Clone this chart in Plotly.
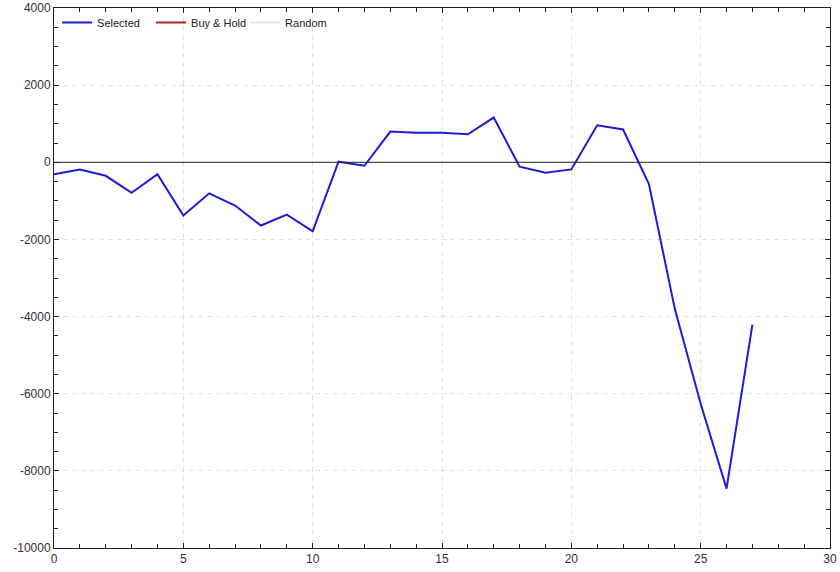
import plotly.graph_objects as go

trades = list(range(28))
selected = [-310, -190, -350, -790, -310, -1380, -805, -1120, -1640, -1355, -1790,
            15, -90, 795, 765, 765, 725, 1160, -115, -270, -185, 960, 850, -565,
            -3800, -6260, -8460, -4210]
buy_hold = [None]
random_series = [None]

x_ticks = [0, 5, 10, 15, 20, 25, 30]
x_tick_labels = ["0", "5", "10", "15", "20", "25", "30"]
y_ticks = [-10000, -8000, -6000, -4000, -2000, 0, 2000, 4000]
y_tick_labels = ["-10000", "-8000", "-6000", "-4000", "-2000", "0", "2000", "4000"]

fig = go.Figure()
fig.add_trace(go.Scatter(x=trades, y=selected, mode="lines", name="Selected",
                         line=dict(color="#1c1cd4", width=2)))
fig.add_trace(go.Scatter(x=[None], y=buy_hold, mode="lines", name="Buy & Hold",
                         line=dict(color="#b22222", width=2)))
fig.add_trace(go.Scatter(x=[None], y=random_series, mode="lines", name="Random",
                         line=dict(color="#e4e4e4", width=2)))

axis_common = dict(
    showline=True, linecolor="#222", linewidth=1, mirror="ticks",
    ticks="inside", ticklen=5, tickcolor="#222", automargin=False,
    showgrid=True, gridcolor="#e2e2e2", griddash="5px,4px", gridwidth=1,
    tickfont=dict(family="Liberation Sans, Arial, sans-serif", size=12, color="#333"),
)

fig.update_xaxes(range=[0, 30], tickvals=x_ticks, ticktext=x_tick_labels, zeroline=False,
                 minor=dict(dtick=1, ticks="inside", ticklen=4, tickcolor="#222", showgrid=False),
                 **axis_common)
fig.update_yaxes(range=[-10000, 4000], tickvals=y_ticks, ticktext=y_tick_labels,
                 zeroline=False,
                 minor=dict(dtick=500, ticks="inside", ticklen=4, tickcolor="#222", showgrid=False),
                 **axis_common)

# zero reference line drawn above the data line
fig.add_hline(y=0, line=dict(color="#222", width=1), layer="above")

fig.update_layout(
    width=840, height=572,
    margin=dict(l=54, r=10, t=8, b=24),
    plot_bgcolor="white", paper_bgcolor="white",
    showlegend=True,
    legend=dict(orientation="h", x=0.004, y=1.0, xanchor="left", yanchor="top",
                bgcolor="rgba(0,0,0,0)",
                font=dict(family="Liberation Sans, Arial, sans-serif", size=11, color="#222"),
                entrywidth=49, entrywidthmode="pixels", itemwidth=30),
)

fig.write_html("out.html", config={"displayModeBar": False},
               post_script="document.body.style.margin='0';")
